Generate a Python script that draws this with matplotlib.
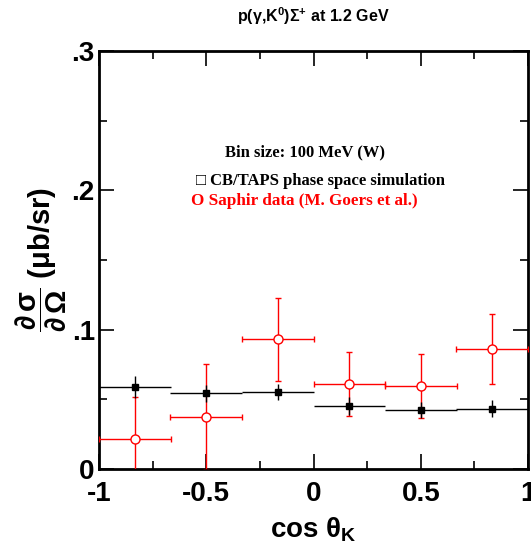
import matplotlib
matplotlib.use("Agg")
import matplotlib.pyplot as plt
import numpy as np

# Data
bin_centers = [-0.833, -0.5, -0.167, 0.167, 0.5, 0.833]
bin_halfwidth = [0.167, 0.167, 0.167, 0.167, 0.167, 0.167]
sim_vals = [0.0587, 0.0543, 0.0553, 0.0455, 0.0424, 0.0433]
sim_errs = [0.008, 0.006, 0.006, 0.0065, 0.0058, 0.006]
saphir_vals = [0.0215, 0.0376, 0.093, 0.061, 0.0598, 0.086]
saphir_errs = [0.030, 0.038, 0.030, 0.023, 0.023, 0.025]
xticks = [-1, -0.5, 0, 0.5, 1]
xticklabels = ["-1", "-0.5", "0", "0.5", "1"]
yticks = [0, 0.1, 0.2, 0.3]
yticklabels = ["0", ".1", ".2", ".3"]

plt.rcParams['font.family'] = ['Liberation Sans', 'DejaVu Sans']
plt.rcParams['mathtext.fontset'] = 'custom'
plt.rcParams['mathtext.rm'] = 'Liberation Sans:bold'
plt.rcParams['mathtext.it'] = 'Liberation Sans:bold'
plt.rcParams['mathtext.bf'] = 'Liberation Sans:bold'

fig = plt.figure(figsize=(5.31, 5.47), dpi=100)
ax = fig.add_axes([0.1864, 0.1426, 0.808, 0.7642])

ax.errorbar(bin_centers, saphir_vals, xerr=bin_halfwidth, yerr=saphir_errs,
            fmt='o', color='red', mfc='white', mec='red', ms=6.5, mew=1.0,
            elinewidth=1.0, capsize=2, capthick=1.0, zorder=3)
ax.errorbar(bin_centers, sim_vals, xerr=bin_halfwidth, yerr=sim_errs,
            fmt='s', color='black', ms=4, elinewidth=1.0, capsize=0, zorder=4)

ax.set_xlim(-1, 1)
ax.set_ylim(0, 0.3)
ax.set_xticks(xticks)
ax.set_xticklabels(xticklabels)
ax.set_yticks(yticks)
ax.set_yticklabels(yticklabels)
ax.set_xticks(np.arange(-1, 1.01, 0.25), minor=True)
ax.set_yticks(np.arange(0, 0.301, 0.05), minor=True)
ax.tick_params(which='both', direction='in', top=True, right=True, width=1.2)
ax.tick_params(which='major', length=11, labelsize=20)
ax.tick_params(axis='x', which='major', pad=9)
ax.tick_params(axis='y', which='major', pad=3)
ax.tick_params(which='minor', length=6)
for lab in ax.get_xticklabels() + ax.get_yticklabels():
    lab.set_fontweight('bold')
for s in ax.spines.values():
    s.set_linewidth(2)

ax.set_xlabel(r'cos $\theta_K$', fontsize=20, fontweight='bold', labelpad=6)
ax.set_ylabel(r'$\dfrac{\partial\,\sigma}{\partial\,\Omega}$ ($\mu$b/sr)', fontsize=21,
              fontweight='bold', labelpad=2)

fig.text(0.59, 0.970, r'p($\gamma$,K$^0$)$\Sigma^{+}$ at 1.2 GeV', ha='center', va='center',
         fontsize=11.5, fontweight='bold')

ax.text(0.481, 0.757, 'Bin size: 100 MeV (W)', transform=ax.transAxes, ha='center', va='center',
        fontsize=12, fontweight='bold', family='Liberation Serif')
ax.text(0.517, 0.689, '\u25a1 CB/TAPS phase space simulation', transform=ax.transAxes, ha='center',
        va='center', fontsize=12, fontweight='bold', family='Liberation Serif')
ax.text(0.479, 0.642, 'O Saphir data (M. Goers et al.)', transform=ax.transAxes, ha='center',
        va='center', fontsize=12.3, fontweight='bold', family='Liberation Serif', color='red')

fig.savefig('out.png', dpi=100)
